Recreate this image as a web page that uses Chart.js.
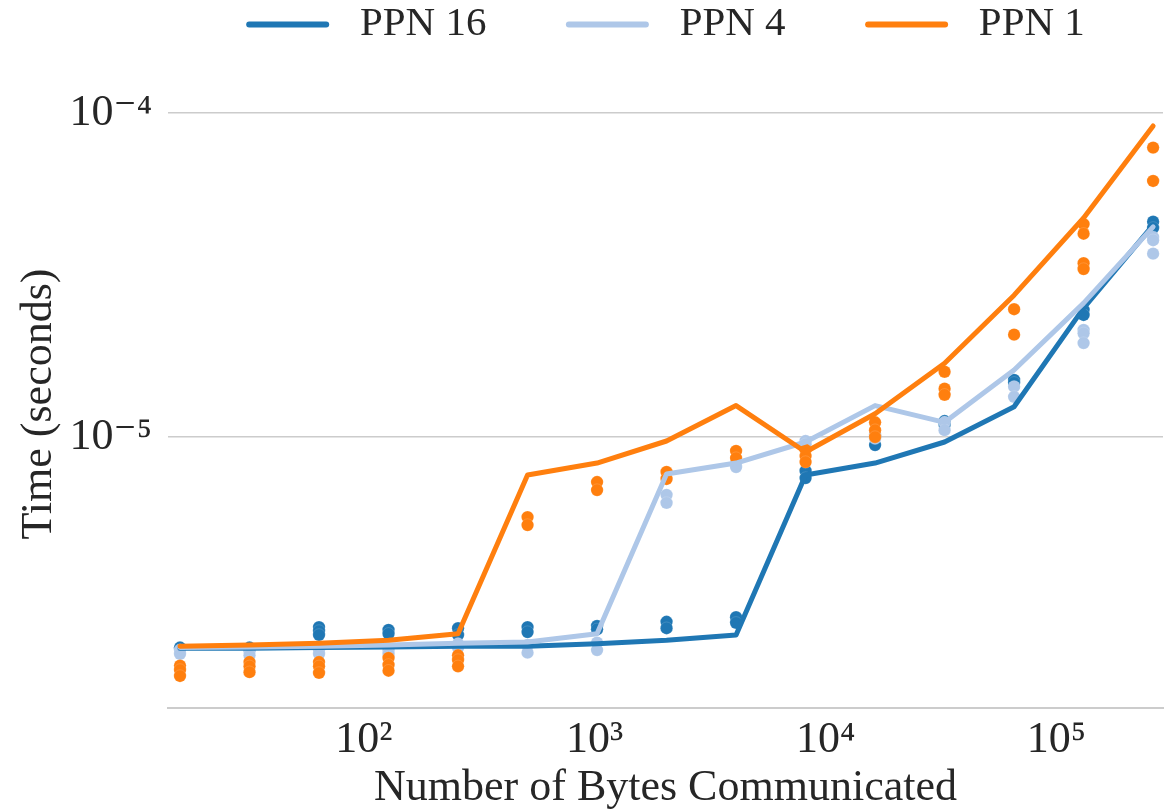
<!DOCTYPE html>
<html>
<head>
<meta charset="utf-8">
<script src="https://cdn.jsdelivr.net/npm/chart.js@4/dist/chart.umd.min.js"></script>
<style>
  html, body { margin: 0; padding: 0; background: #ffffff; }
  #wrap { width: 1173px; height: 810px; }
</style>
</head>
<body>
<div id="wrap"><canvas id="c" width="1173" height="810"></canvas></div>
<script>
// ---- data ----
const bytes = [16, 32, 64, 128, 256, 512, 1024, 2048, 4096, 8192, 16384, 32768, 65536, 131072, 262144];

const seriesNames = ['PPN 16', 'PPN 4', 'PPN 1'];

// line (aggregate) values, seconds
const ppn16Line = [2.23e-6, 2.23e-6, 2.24e-6, 2.25e-6, 2.26e-6, 2.26e-6, 2.30e-6, 2.36e-6, 2.45e-6, 7.63e-6, 8.31e-6, 9.65e-6, 1.24e-5, 2.50e-5, 4.51e-5];
const ppn4Line  = [2.24e-6, 2.25e-6, 2.26e-6, 2.28e-6, 2.31e-6, 2.33e-6, 2.47e-6, 7.69e-6, 8.31e-6, 9.65e-6, 1.25e-5, 1.11e-5, 1.61e-5, 2.59e-5, 4.45e-5];
const ppn1Line  = [2.26e-6, 2.28e-6, 2.31e-6, 2.36e-6, 2.47e-6, 7.63e-6, 8.31e-6, 9.72e-6, 1.25e-5, 8.99e-6, 1.18e-5, 1.69e-5, 2.74e-5, 4.74e-5, 9.12e-5];

// individual trial values per message size, seconds
const ppn16Trials = [
  [2.22e-6, 2.24e-6], [2.22e-6, 2.24e-6], [2.59e-6, 2.52e-6, 2.45e-6], [2.54e-6, 2.47e-6], [2.57e-6, 2.45e-6],
  [2.59e-6, 2.50e-6], [2.61e-6, 2.55e-6], [2.69e-6, 2.57e-6], [2.78e-6, 2.67e-6], [7.86e-6, 7.47e-6],
  [9.44e-6, 1.0e-5], [1.12e-5, 1.09e-5], [1.50e-5, 1.47e-5], [2.47e-5, 2.38e-5], [4.62e-5, 4.42e-5]
];
const ppn4Trials = [
  [2.20e-6, 2.14e-6], [2.18e-6, 2.12e-6], [2.20e-6, 2.14e-6], [2.20e-6, 2.14e-6], [2.30e-6, 2.24e-6],
  [2.28e-6, 2.16e-6], [2.32e-6, 2.20e-6], [6.63e-6, 6.26e-6], [8.31e-6, 8.08e-6], [9.72e-6, 9.50e-6],
  [1.02e-5, 9.9e-6], [1.11e-5, 1.05e-5], [1.43e-5, 1.33e-5], [2.14e-5, 2.09e-5, 1.95e-5], [4.14e-5, 4.05e-5, 3.68e-5]
];
const ppn1Trials = [
  [1.97e-6, 1.91e-6, 1.83e-6], [2.02e-6, 1.96e-6, 1.88e-6], [2.02e-6, 1.96e-6, 1.87e-6], [2.08e-6, 1.98e-6, 1.90e-6], [2.12e-6, 2.05e-6, 1.96e-6],
  [5.66e-6, 5.35e-6], [7.26e-6, 6.86e-6], [7.80e-6, 7.42e-6], [9.06e-6, 8.61e-6], [9.12e-6, 8.73e-6, 8.37e-6],
  [1.11e-5, 1.05e-5, 1.0e-5], [1.59e-5, 1.41e-5, 1.35e-5], [2.48e-5, 2.07e-5], [4.54e-5, 4.24e-5, 3.44e-5, 3.30e-5], [7.82e-5, 6.17e-5]
];

const xTickValues = [1e2, 1e3, 1e4, 1e5];
const xTickLabels = ['10\u00B2', '10\u00B3', '10\u2074', '10\u2075'];
const yTickValues = [1e-5, 1e-4];
const yTickLabels = ['10\u207B\u2075', '10\u207B\u2074'];

const xTitle = 'Number of Bytes Communicated';
const yTitle = 'Time (seconds)';

// ---- styling ----
const colors = ['#1f77b4', '#aec7e8', '#ff7f0e'];
const FAMILY = '"Liberation Serif", "DejaVu Serif", serif';
const FONT = { family: FAMILY, size: 44, lineHeight: 1 };
const LEGEND_FONT = { family: FAMILY, size: 41, lineHeight: 1 };
const TEXT = '#262626';
const GRID = '#cccccc';

function linePoints(vals) { return bytes.map((b, i) => ({ x: b, y: vals[i] })); }
function trialPoints(trials) {
  const pts = [];
  trials.forEach((arr, i) => arr.forEach(v => pts.push({ x: bytes[i], y: v })));
  return pts;
}

const lines = [ppn16Line, ppn4Line, ppn1Line];
const trials = [ppn16Trials, ppn4Trials, ppn1Trials];

const datasets = [];
// lines: orange on top, then light blue, then dark blue
for (let s = 0; s < 3; s++) {
  datasets.push({
    label: seriesNames[s],
    data: linePoints(lines[s]),
    showLine: true,
    borderColor: colors[s],
    backgroundColor: colors[s],
    borderWidth: 5,
    borderCapStyle: 'round',
    borderJoinStyle: 'round',
    pointRadius: 0,
    pointHoverRadius: 0,
    tension: 0,
    fill: false,
    order: 2 - s
  });
}
for (let s = 0; s < 3; s++) {
  datasets.push({
    label: seriesNames[s] + ' trials',
    data: trialPoints(trials[s]),
    showLine: false,
    backgroundColor: colors[s],
    borderColor: 'rgba(255,255,255,0.3)',
    borderWidth: 0.5,
    pointRadius: 6.2,
    pointHoverRadius: 6.2,
    order: 5 - s
  });
}

const yMax = Math.pow(10, -4 + 13 / 324);
const yMin = Math.pow(10, -5 - 271 / 324);
const GAP = '      '; // spacing between legend entries

new Chart(document.getElementById('c'), {
  type: 'scatter',
  data: { datasets },
  options: {
    responsive: false,
    animation: false,
    devicePixelRatio: 1,
    layout: { padding: { top: -14, right: 10, bottom: 0, left: 0 } },
    plugins: {
      tooltip: { enabled: false },
      title: { display: false },
      subtitle: { display: true, text: '', weight: 500, font: { size: 1, lineHeight: 1 }, padding: { top: 0, bottom: 44 } },
      legend: {
        display: true,
        position: 'top',
        fullSize: false,
        labels: {
          boxWidth: 83,
          boxHeight: 6,
          padding: 18,
          useBorderRadius: true,
          borderRadius: 3,
          color: TEXT,
          font: LEGEND_FONT,
          generateLabels: (chart) => [0, 1, 2].map(i => ({
            text: ' ' + seriesNames[i] + (i < 2 ? GAP : ''),
            fillStyle: colors[i],
            strokeStyle: colors[i],
            lineWidth: 0,
            borderRadius: 3,
            hidden: false,
            datasetIndex: i,
            fontColor: TEXT
          }))
        }
      }
    },
    scales: {
      x: {
        type: 'logarithmic',
        min: Math.pow(10, 1.1521),
        max: Math.pow(10, 5.4614),
        grid: { display: false, drawTicks: false },
        border: { display: true, color: GRID, width: 2 },
        afterBuildTicks: (scale) => { scale.ticks = xTickValues.map(v => ({ value: v })); },
        afterFit: (scale) => { scale.height = 102; },
        ticks: {
          autoSkip: false,
          maxRotation: 0,
          padding: 10,
          color: TEXT,
          font: FONT,
          callback: (value, index) => xTickLabels[index]
        },
        title: { display: true, text: xTitle, color: TEXT, font: FONT, padding: { top: 0, bottom: 0 } }
      },
      y: {
        type: 'logarithmic',
        min: yMin,
        max: yMax,
        grid: { display: true, drawTicks: false, color: GRID, lineWidth: 1.6 },
        border: { display: false },
        afterBuildTicks: (scale) => { scale.ticks = yTickValues.map(v => ({ value: v })); },
        afterFit: (scale) => { scale.width = 168; },
        ticks: {
          autoSkip: false,
          padding: 16,
          color: TEXT,
          font: FONT,
          callback: (value, index) => yTickLabels[index]
        },
        title: { display: true, text: yTitle, color: TEXT, font: FONT, padding: { top: 17, bottom: 0 } }
      }
    }
  }
});
</script>
</body>
</html>
